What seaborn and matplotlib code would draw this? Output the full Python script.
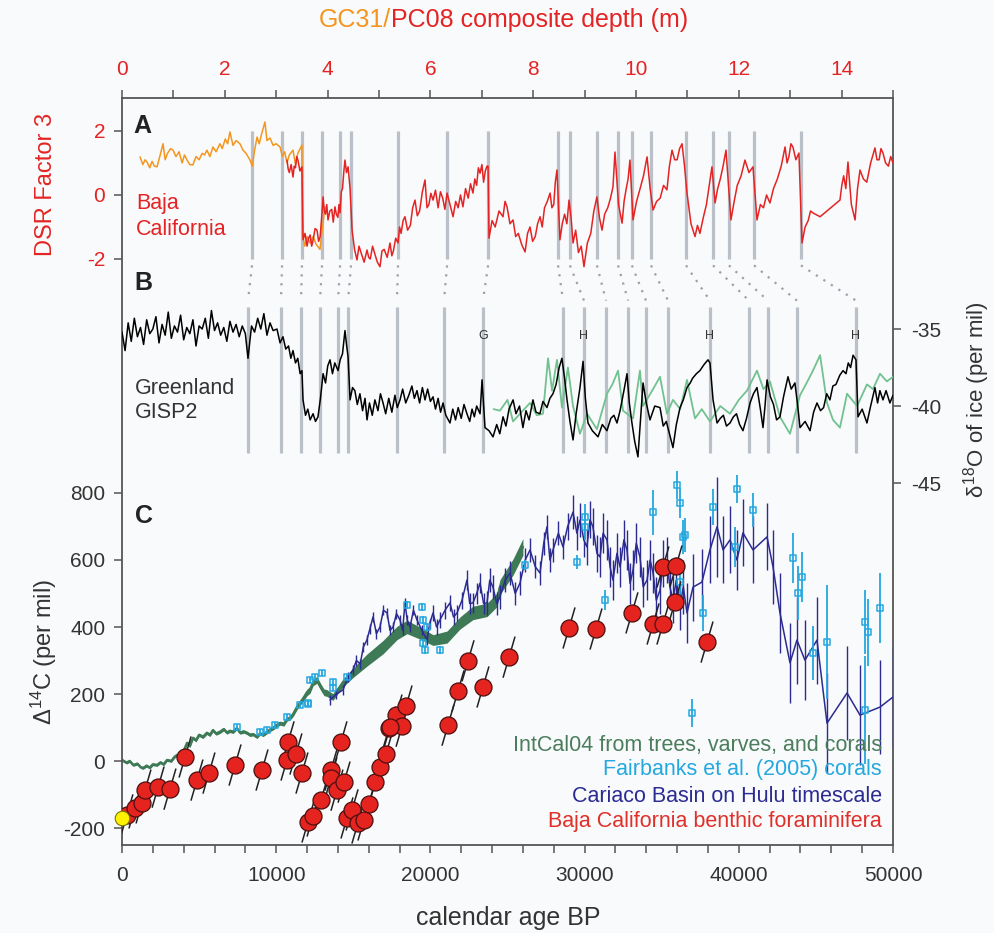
import matplotlib
matplotlib.use("Agg")
import matplotlib.pyplot as plt
from matplotlib.ticker import MultipleLocator
import numpy as np
import seaborn as sns

# ---------------- data ----------------
# Panel A: DSR factor 3 (GC31, orange) vs calendar age
GC31_AGE = [
    1170, 1350, 1500, 1620, 1800, 1950, 2100, 2270, 2450, 2660,
    2800, 2950, 3150, 3310, 3500, 3700, 3900, 4050, 4220, 4400,
    4600, 4800, 5000, 5200, 5350, 5510, 5700, 5900, 6100, 6350,
    6500, 6700, 6850, 7000, 7200, 7400, 7650, 7850, 8050, 8300,
    8450, 8600, 8760, 8900, 9050, 9270, 9400, 9600, 9800, 10000,
    10250, 10400, 10550, 10700, 10850, 11090, 11250, 11400, 11670, 11700,
    11850, 12000, 12200, 12390, 12600, 12840, 13000, 13170]
GC31_VAL = [
    1.19, 0.95, 1.10, 1.03, 0.85, 1.05, 0.90, 0.88, 1.20, 1.60,
    1.10, 1.30, 1.45, 1.40, 1.20, 1.35, 1.00, 1.25, 1.09, 0.95,
    0.94, 1.20, 1.10, 1.30, 1.25, 1.40, 1.20, 1.50, 1.35, 1.60,
    1.45, 1.75, 1.60, 1.97, 1.55, 1.70, 1.60, 1.40, 1.30, 1.09,
    0.90, 1.40, 1.81, 1.60, 1.90, 2.28, 1.70, 1.78, 1.55, 1.60,
    1.50, 1.20, 1.35, 1.00, 1.25, 1.40, 0.95, 1.30, 1.56, -1.20,
    -1.60, -1.30, -1.50, -1.30, -1.55, -1.70, -1.00, -0.37]

# Panel A: DSR factor 3 (PC08, red) as (age, value)
PC08 = [
    (10700, 1.09), (10780, 0.80), (10850, 0.70), (10970, 0.95), (11090, 0.56),
    (11170, 0.90), (11250, 0.85), (11330, 1.20), (11410, 1.09), (11540, 0.75),
    (11670, 0.88), (11740, -1.40), (11870, -1.20), (12000, -1.60), (12100, -1.35),
    (12200, -1.25), (12300, -1.60), (12400, -1.40), (12520, -1.05), (12650, -1.10),
    (12750, -1.45), (12850, -1.30), (12950, -0.70), (13040, -0.06), (13120, -0.50),
    (13200, -0.60), (13280, -0.30), (13360, -0.78), (13480, -0.50), (13600, -0.45),
    (13700, -0.85), (13810, -0.37), (13900, -0.60), (14000, -0.70), (14070, -0.30),
    (14140, -0.56), (14220, 0.10), (14300, 0.20), (14380, 0.70), (14460, 1.09),
    (14560, 0.70), (14660, 0.88), (14790, 0.20), (14920, -1.10), (15080, -1.70),
    (15240, -2.03), (15370, -1.60), (15500, -1.80), (15700, -2.10), (15890, -1.72),
    (16000, -1.95), (16100, -2.00), (16250, -1.60), (16400, -1.85), (16560, -2.10),
    (16730, -2.24), (16860, -1.75), (17000, -1.70), (17200, -1.95), (17380, -1.50),
    (17500, -1.90), (17600, -1.75), (17750, -1.35), (17900, -1.50), (18000, -1.00),
    (18100, -1.20), (18230, -0.80), (18350, -0.68), (18520, -1.10), (18700, -0.95),
    (18850, -0.40), (19000, -0.16), (19150, -0.65), (19300, -0.50), (19480, 0.10),
    (19650, 0.47), (19780, -0.40), (19900, -0.30), (20030, 0.05), (20170, -0.16),
    (20330, 0.15), (20500, -0.40), (20650, 0.10), (20800, -0.10), (20940, -0.45),
    (21080, 0.06), (21270, -0.30), (21470, -0.68), (21640, -0.20), (21800, -0.40),
    (21950, 0.00), (22110, -0.37), (22280, 0.20), (22450, -0.10), (22600, 0.35),
    (22760, 0.06), (22880, 0.50), (23000, 0.30), (23110, 0.85), (23220, 0.68),
    (23340, 0.95), (23450, 0.40), (23560, 0.75), (23670, 0.90), (23740, 0.90),
    (23800, -1.35), (24000, -0.80), (24200, -1.00), (24450, -0.50), (24710, -0.68),
    (24840, -0.20), (24970, -0.37), (25160, -0.90), (25360, -0.78), (25530, -1.30),
    (25700, -1.20), (25920, -1.55), (26140, -1.78), (26300, -1.20), (26460, -1.00),
    (26630, -1.45), (26800, -1.30), (26950, -0.90), (27110, -0.68), (27250, -1.00),
    (27400, -0.40), (27580, -0.20), (27760, 0.06), (27880, -0.40), (28000, -0.30),
    (28100, 0.40), (28210, 0.78), (28400, -1.40), (28550, -0.90), (28700, -0.60),
    (28850, -0.90), (28990, -0.16), (29120, -0.70), (29250, -1.50), (29420, -1.10),
    (29600, -1.80), (29780, -1.60), (29960, -2.24), (30180, -1.50), (30400, -1.20),
    (30600, -0.50), (30800, -0.06), (30960, -0.70), (31130, -1.10), (31300, -0.60),
    (31500, -0.40), (31680, -0.10), (31840, 0.25), (31970, 1.34), (32200, -0.30),
    (32430, -0.88), (32560, -0.20), (32700, 0.20), (32820, 0.50), (32940, 1.09),
    (33140, -0.78), (33370, -0.20), (33600, 0.20), (33820, 0.60), (34050, 1.19),
    (34250, 0.20), (34440, -0.47), (34670, -0.20), (34900, -0.10), (35120, 0.30),
    (35340, 0.16), (35500, 0.90), (35670, 1.40), (35840, 1.10), (36000, 1.10),
    (36160, 1.45), (36320, 1.60), (36480, 0.90), (36640, 0.06), (36900, -0.90),
    (37160, -1.30), (37320, -0.95), (37480, -1.20), (37700, -0.70), (37900, -0.30),
    (38080, 0.30), (38260, 0.88), (38460, -0.25), (38630, 0.20), (38800, 0.50),
    (38980, 0.90), (39170, 1.40), (39490, -0.78), (39700, -0.20), (39900, 0.30),
    (40150, 0.60), (40400, 1.09), (40660, 0.70), (40920, 0.88), (41180, -0.78),
    (41400, -0.30), (41600, -0.40), (41800, 0.00), (42020, -0.25), (42250, 0.20),
    (42500, 0.50), (42750, 0.90), (43000, 1.50), (43130, 1.00), (43250, 1.20),
    (43380, 1.60), (43510, 1.50), (43700, 1.10), (43900, 1.31), (44100, -1.50),
    (44300, -1.00), (44500, -0.80), (44650, -0.50), (44810, -0.56), (45270, -0.68),
    (46560, -0.16), (46680, 0.30), (46800, 0.60), (46940, 0.20), (47080, 1.03),
    (47300, -0.30), (47540, -0.78), (47700, 0.20), (47860, 0.78), (48080, 0.50),
    (48300, 0.40), (48550, 1.00), (48830, 1.47), (48960, 1.10), (49100, 1.10),
    (49220, 1.45), (49350, 1.31), (49520, 1.00), (49700, 0.90), (49850, 1.20),
    (50000, 1.00)]

# Panel B: GISP2 d18O (black) as (age, value)
GISP = [
    (0, -35.2), (200, -36.4), (400, -34.6), (600, -35.8), (800, -34.3),
    (1000, -35.5), (1200, -34.9), (1400, -36.0), (1600, -34.4), (1800, -35.3),
    (2000, -35.0), (2200, -34.2), (2400, -35.9), (2600, -34.7), (2800, -35.4),
    (3000, -33.9), (3200, -35.6), (3400, -34.8), (3600, -35.2), (3800, -34.1),
    (4000, -35.7), (4200, -34.9), (4400, -35.3), (4600, -34.4), (4800, -36.1),
    (5000, -34.8), (5200, -35.0), (5400, -34.3), (5600, -35.6), (5800, -33.8),
    (6000, -35.1), (6200, -34.6), (6400, -35.4), (6600, -34.9), (6800, -35.8),
    (7000, -34.5), (7200, -35.2), (7400, -34.7), (7600, -35.5), (7800, -34.8),
    (8000, -35.3), (8170, -36.9), (8400, -34.8), (8600, -35.2), (8800, -34.3),
    (9000, -35.0), (9200, -34.0), (9400, -35.4), (9600, -34.6), (9800, -35.1),
    (10050, -35.0), (10250, -35.9), (10440, -35.5), (10620, -36.3), (10800, -36.1),
    (10950, -36.9), (11090, -36.4), (11250, -37.2), (11400, -36.9), (11550, -37.9),
    (11670, -37.7), (11740, -39.6), (11900, -40.6), (12050, -40.2), (12200, -40.9),
    (12390, -40.5), (12550, -41.0), (12710, -40.7), (12870, -39.5), (13040, -37.9),
    (13200, -38.5), (13340, -37.4), (13490, -37.0), (13650, -37.9), (13800, -37.2),
    (14010, -37.7), (14150, -37.0), (14300, -36.6), (14460, -35.1), (14560, -36.0),
    (14660, -36.8), (14790, -39.6), (14950, -38.8), (15100, -39.0), (15260, -39.9),
    (15430, -39.2), (15600, -40.3), (15760, -39.5), (15890, -40.9), (16050, -39.8),
    (16230, -40.6), (16400, -39.6), (16600, -40.3), (16760, -39.2), (16930, -39.8),
    (17100, -40.5), (17300, -39.5), (17500, -40.4), (17700, -39.3), (17850, -40.1),
    (18030, -39.6), (18200, -38.9), (18400, -39.8), (18600, -39.3), (18800, -38.7),
    (18960, -39.5), (19130, -39.0), (19300, -39.8), (19480, -38.8), (19650, -39.6),
    (19820, -38.9), (20000, -39.7), (20170, -39.4), (20330, -40.2), (20500, -39.5),
    (20660, -40.4), (20820, -39.8), (21000, -40.6), (21270, -41.1), (21450, -40.2),
    (21630, -40.9), (21800, -40.1), (22000, -40.8), (22180, -39.9), (22370, -40.5),
    (22550, -41.0), (22700, -40.2), (22850, -40.7), (23000, -40.0), (23220, -40.5),
    (23350, -38.3), (23540, -41.4), (23800, -41.6), (24060, -42.0), (24300, -41.2),
    (24500, -41.8), (24710, -40.7), (24900, -41.3), (25100, -40.2), (25360, -39.6),
    (25550, -40.5), (25780, -40.0), (26000, -41.4), (26200, -40.3), (26400, -40.9),
    (26650, -39.6), (26850, -40.4), (27100, -40.5), (27300, -39.7), (27560, -40.1),
    (27750, -39.5), (27950, -39.2), (28150, -38.6), (28350, -37.5), (28530, -36.9),
    (28700, -38.2), (28860, -39.6), (29050, -41.0), (29250, -42.2), (29450, -40.5),
    (29700, -38.8), (29900, -37.1), (30050, -39.5), (30220, -41.1), (30500, -41.6),
    (30870, -42.0), (31150, -41.2), (31450, -41.6), (31700, -40.8), (31900, -40.6),
    (32100, -41.1), (32300, -40.3), (32550, -39.0), (32750, -37.9), (32900, -39.8),
    (33070, -41.1), (33250, -42.3), (33460, -43.3), (33650, -40.5), (33790, -38.5),
    (34000, -39.8), (34240, -40.9), (34550, -40.0), (34890, -40.1), (35100, -41.3),
    (35300, -41.0), (35500, -41.8), (35730, -42.7), (35950, -41.2), (36190, -40.1),
    (36400, -39.6), (36640, -38.8), (36850, -38.5), (37000, -38.2), (37250, -37.9),
    (37480, -37.7), (37750, -37.3), (38000, -37.0), (38130, -37.2), (38330, -39.6),
    (38590, -41.1), (38800, -40.8), (39000, -40.6), (39200, -41.3), (39430, -41.1),
    (39650, -40.7), (39850, -40.5), (40050, -41.2), (40270, -41.6), (40500, -40.8),
    (40730, -39.8), (40950, -39.2), (41180, -38.8), (41400, -40.2), (41570, -41.4),
    (41700, -40.0), (41830, -38.3), (42050, -39.4), (42250, -39.9), (42450, -40.9),
    (42670, -40.7), (42900, -39.4), (43190, -38.1), (43400, -38.9), (43640, -38.5),
    (43800, -39.8), (43970, -41.4), (44300, -41.0), (44620, -41.6), (44850, -40.4),
    (45070, -39.8), (45300, -40.3), (45500, -40.1), (45700, -39.2), (45910, -39.6),
    (46100, -38.7), (46300, -38.6), (46550, -38.0), (46760, -37.7), (46950, -37.9),
    (47100, -37.2), (47250, -37.5), (47410, -36.7), (47600, -37.0), (47730, -40.7),
    (48000, -40.2), (48310, -41.1), (48550, -40.0), (48830, -38.8), (49000, -39.8),
    (49150, -39.0), (49350, -39.6), (49550, -39.0), (49800, -39.8), (50000, -39.3)]

# Panel B: alternative (green) trace
GISP_ALT_AGE = [
    24100, 24510, 25000, 25360, 25900, 26460, 26900, 27300, 27630, 27890,
    28210, 28530, 28920, 29250, 29700, 30160, 30800, 31450, 31800, 32170,
    32490, 33140, 33590, 33790, 34440, 34890, 35340, 35730, 36200, 36640,
    37160, 37600, 38130, 38800, 39430, 40000, 40530, 41180, 41600, 42020,
    42670, 43320, 43970, 44400, 44810, 45270, 45720, 46110, 46560, 47020,
    47670, 48310, 48700, 49160, 49600, 50000]
GISP_ALT_VAL = [
    -40.2, -40.3, -39.6, -41.0, -40.4, -39.8, -40.6, -40.5, -36.9, -39.0,
    -37.0, -40.1, -37.5, -40.0, -41.8, -40.5, -41.5, -39.2, -38.6, -37.7,
    -40.3, -40.8, -37.7, -40.0, -38.9, -38.1, -40.5, -39.6, -40.2, -38.3,
    -40.8, -40.2, -41.0, -40.0, -40.5, -39.6, -39.0, -37.7, -38.9, -38.4,
    -40.7, -41.8, -39.3, -38.5, -37.7, -36.7, -39.8, -40.9, -41.4, -39.2,
    -40.0, -38.6, -38.9, -37.9, -38.4, -38.1]

A_EVENTS = [8430, 10380, 11670, 12970, 14140, 14850, 17900, 21080, 23740, 28280,
            29050, 30800, 32170, 33070, 34310, 36580, 38330, 39360, 40990, 44030]
B_EVENTS = [8170, 10310, 11610, 12840, 14010, 14660, 17830, 20880, 23410, 28600,
            29960, 31390, 32820, 33980, 35410, 38130, 40660, 41890, 43770, 47600]
B_MARK_AGE = [23410, 29960, 38130, 47600]
B_MARK_TXT = ["G", "H", "H", "H"]

# Panel C: IntCal04 as (age, D14C, half-width)
INTCAL = [
    (0, 3, 4), (300, -5, 4), (500, 0, 4), (730, -12, 4), (1000, -8, 4),
    (1200, -18, 4), (1360, -21, 4), (1600, -14, 4), (1800, -20, 4), (2000, -10, 4),
    (2270, -12, 4), (2500, -4, 4), (2700, -10, 4), (2920, 3, 4), (3200, 0, 4),
    (3400, 12, 4), (3570, 18, 4), (3800, 10, 4), (4000, 30, 5), (4220, 54, 5),
    (4400, 45, 5), (4600, 69, 5), (4800, 62, 5), (5000, 78, 5), (5250, 72, 5),
    (5500, 84, 5), (5700, 78, 5), (5900, 92, 5), (6100, 82, 5), (6350, 87, 5),
    (6600, 95, 5), (6800, 85, 5), (7000, 90, 5), (7200, 87, 5), (7450, 98, 5),
    (7650, 85, 5), (7900, 88, 5), (8100, 84, 5), (8300, 78, 5), (8500, 80, 5),
    (8750, 72, 5), (8950, 82, 5), (9150, 78, 5), (9400, 87, 6), (9650, 95, 6),
    (9850, 100, 6), (10050, 108, 6), (10250, 113, 6), (10500, 110, 6), (10700, 125, 6),
    (10900, 128, 6), (11100, 140, 7), (11350, 161, 8), (11540, 173, 8), (11800, 190, 9),
    (12000, 205, 10), (12190, 212, 10), (12400, 235, 10), (12640, 242, 10), (12900, 220, 10),
    (13100, 205, 10), (13290, 203, 10), (13680, 191, 10), (14330, 233, 12), (14980, 263, 14),
    (15880, 301, 18), (16930, 340, 20), (17830, 382, 20), (18480, 400, 20), (19320, 382, 18),
    (20170, 361, 16), (21080, 370, 18), (21920, 412, 18), (22760, 442, 20), (23670, 451, 20),
    (24320, 481, 20), (24510, 519, 22), (25360, 579, 24), (26000, 639, 25)]

FB_AGE = [7450, 8950, 9400, 9920, 10700, 11540, 12060, 12190, 12510, 12970,
          12060, 13680, 13680, 14590, 18480, 19450, 19520, 19650, 19520, 20620,
          19780, 26130, 29500, 30030, 30030, 31320, 34440, 35990, 36190, 36380,
          36510, 36190, 37680, 38330, 39880, 39750, 40920, 36960, 43510, 43840,
          44100, 45720, 44810, 48180, 48380, 49160, 48180]
FB_VAL = [102, 87, 93, 107, 131, 167, 170, 242, 251, 263,
          173, 236, 218, 251, 466, 460, 421, 331, 352, 331,
          400, 585, 594, 728, 699, 481, 743, 824, 770, 669,
          675, 534, 442, 758, 812, 639, 749, 143, 606, 501,
          549, 355, 322, 415, 385, 457, 152]
FB_ERR = [8, 8, 8, 8, 8, 8, 8, 8, 8, 8,
          8, 8, 8, 8, 12, 12, 12, 12, 12, 12,
          12, 15, 20, 40, 40, 30, 67, 42, 45, 50,
          50, 45, 55, 55, 42, 60, 50, 42, 75, 80,
          75, 170, 80, 95, 100, 105, 160]

# Panel C: Cariaco on Hulu timescale as (age, D14C, error)
CARIACO = [
    (13490, 182, 15), (13900, 200, 15), (14330, 212, 15), (14650, 250, 15), (14980, 272, 15),
    (15200, 300, 15), (15450, 290, 15), (15650, 340, 15), (15880, 361, 15), (16080, 395, 15),
    (16280, 430, 15), (16500, 380, 15), (16730, 400, 15), (16950, 450, 15), (17190, 442, 15),
    (17380, 390, 15), (17580, 400, 15), (17800, 440, 15), (18030, 421, 15), (18200, 390, 15),
    (18350, 472, 15), (18500, 420, 15), (18680, 400, 15), (18900, 450, 15), (19130, 421, 15),
    (19450, 390, 15), (19780, 361, 15), (19950, 410, 15), (20170, 442, 25), (20400, 400, 25),
    (20620, 421, 25), (20950, 450, 25), (21270, 472, 25), (21500, 430, 25), (21730, 442, 25),
    (22050, 480, 25), (22370, 540, 30), (22550, 470, 30), (22760, 472, 30), (23000, 500, 30),
    (23220, 531, 30), (23450, 470, 30), (23670, 472, 35), (23850, 540, 35), (24060, 519, 35),
    (24300, 470, 35), (24510, 490, 35), (24850, 540, 35), (25160, 561, 35), (25500, 500, 35),
    (25810, 531, 35), (26150, 600, 35), (26460, 630, 35), (26800, 580, 35), (27110, 561, 35),
    (27350, 650, 35), (27560, 699, 35), (27750, 600, 35), (27950, 630, 35), (28300, 680, 35),
    (28600, 639, 35), (28900, 700, 40), (29250, 743, 50), (29500, 680, 50), (29700, 719, 50),
    (29950, 660, 50), (30150, 639, 55), (30350, 720, 55), (30540, 699, 55), (30800, 620, 55),
    (31000, 609, 60), (31200, 680, 60), (31450, 660, 60), (31650, 580, 60), (31840, 540, 60),
    (32100, 620, 60), (32300, 579, 60), (32550, 660, 60), (32750, 630, 60), (32950, 530, 60),
    (33140, 570, 60), (33350, 650, 60), (33590, 609, 60), (33800, 520, 60), (34050, 540, 60),
    (34250, 600, 60), (34440, 561, 60), (34650, 480, 70), (34890, 510, 70), (35100, 590, 70),
    (35340, 600, 70), (35530, 520, 70), (35730, 481, 70), (35950, 540, 70), (36190, 460, 70),
    (36400, 520, 80), (36640, 442, 90), (37030, 519, 100), (37610, 534, 100), (38130, 630, 100),
    (38590, 699, 150), (38980, 630, 100), (39430, 660, 100), (39880, 600, 90), (40270, 681, 100),
    (40920, 630, 100), (41830, 669, 100), (42220, 579, 110), (42670, 442, 120), (43320, 293, 120),
    (43770, 361, 130), (44290, 301, 120), (45070, 361, 130), (45720, 113, 150), (47020, 203, 140),
    (47860, 137, 150), (49160, 161, 140), (50000, 191, 150)]

BAJA_AGE = [320, 840, 1300, 1490, 2340, 3110, 4090, 4860, 5640, 7330,
            9080, 10770, 10700, 11280, 11670, 12060, 12390, 12910, 13550, 13550,
            13940, 14400, 14200, 14590, 14920, 15300, 15690, 16020, 16410, 16730,
            17120, 17320, 17770, 18160, 18420, 17380, 21140, 21790, 22440, 23410,
            25100, 28990, 30740, 33070, 34440, 35080, 35080, 35930, 35860, 37940]
BAJA_VAL = [-161, -140, -125, -87, -78, -84, 12, -57, -36, -12,
            -27, 57, 3, 21, -36, -182, -164, -116, -27, -51,
            -87, -63, 57, -170, -146, -185, -176, -128, -63, -18,
            21, 99, 137, 104, 164, 101, 107, 209, 299, 221,
            310, 397, 394, 442, 409, 409, 579, 582, 475, 355]
BAJA_DAGE = 380      # half extent of the correlated age error (yr)
BAJA_DVAL = 60       # half extent of the correlated D14C error (per mil)
MODERN_AGE = [0]
MODERN_VAL = [-170]

DEPTH_TICKS = [0, 2, 4, 6, 8, 10, 12, 14]
AGE_TICKS = [0, 10000, 20000, 30000, 40000, 50000]
DSR_TICKS = [-2, 0, 2]
D18O_TICKS = [-45, -40, -35]
D14C_TICKS = [-200, 0, 200, 400, 600, 800]

LEGEND_TXT = ["IntCal04 from trees, varves, and corals",
              "Fairbanks et al. (2005) corals",
              "Cariaco Basin on Hulu timescale",
              "Baja California benthic foraminifera"]

# ---------------- style ----------------
BG = "#f9fafb"
RED = "#e42424"
ORANGE = "#f4961e"
GRAY = "#b9c0c7"
DOT = "#9aa2aa"
GREENL = "#72c190"
INTCALC = "#3e7a55"
FBC = "#24a8e0"
CAR = "#2b2b92"
BAJA = "#e5231f"
TXT = "#333333"
SPINE = "#555555"

sns.set_theme(style="ticks")
plt.rcParams["font.family"] = ["Liberation Sans", "DejaVu Sans"]
plt.rcParams["mathtext.fontset"] = "custom"
plt.rcParams["mathtext.rm"] = "Liberation Sans"
plt.rcParams["mathtext.it"] = "Liberation Sans"
plt.rcParams["mathtext.bf"] = "Liberation Sans:bold"

W, H = 994, 933
fig = plt.figure(figsize=(W / 100, H / 100), dpi=100, facecolor=BG)


def fx(x):
    return x / W


def fy(y):
    return 1 - y / H


rect = [fx(122), fy(845), (893 - 122) / W, (845 - 98) / H]
axC = fig.add_axes(rect, facecolor=BG)
axB = fig.add_axes(rect, facecolor="none")
axA = fig.add_axes(rect, facecolor="none")
axD = fig.add_axes(rect, facecolor="none")

for ax in (axA, axB, axD):
    for s in ax.spines.values():
        s.set_visible(False)
for s in axC.spines.values():
    s.set_color(SPINE)
    s.set_linewidth(1.3)
    s.set_visible(True)

for ax in (axA, axB, axC):
    ax.set_xlim(0, 50000)
axA.set_ylim(-20.31, 3.03)
axB.set_ylim(-68.5, -20.0)
axC.set_ylim(-250.7, 1979)

# ---- panel A ----
for a in A_EVENTS:
    axA.plot([a, a], [-2.0, 2.0], color=GRAY, lw=2.3, solid_capstyle="butt", zorder=1)
for a, b in zip(A_EVENTS, B_EVENTS):
    axA.plot([a, b], [-2.2, -3.3], color=DOT, lw=1.6, ls=(0, (1, 3)), zorder=1)
sns.lineplot(x=GC31_AGE, y=GC31_VAL, ax=axA, color=ORANGE, lw=1.1,
             sort=False, estimator=None, legend=False, zorder=3)
sns.lineplot(x=[p[0] for p in PC08], y=[p[1] for p in PC08], ax=axA, color=RED, lw=1.1,
             sort=False, estimator=None, legend=False, zorder=4)

# ---- panel B ----
for b in B_EVENTS:
    axB.plot([b, b], [-33.57, -43.05], color=GRAY, lw=2.3, solid_capstyle="butt", zorder=1)
sns.lineplot(x=GISP_ALT_AGE, y=GISP_ALT_VAL, ax=axB, color=GREENL, lw=1.3,
             sort=False, estimator=None, legend=False, zorder=2)
sns.lineplot(x=[p[0] for p in GISP], y=[p[1] for p in GISP], ax=axB, color="black", lw=1.1,
             sort=False, estimator=None, legend=False, zorder=3)
for a, t in zip(B_MARK_AGE, B_MARK_TXT):
    axB.text(a, -35.45, t, ha="center", va="center", fontsize=9, color=TXT)

# ---- panel C ----
ia = np.array([p[0] for p in INTCAL])
iv = np.array([p[1] for p in INTCAL])
ie = np.array([p[2] for p in INTCAL])
axC.fill_between(ia, iv - ie, iv + ie, color=INTCALC, lw=0, zorder=2)
sns.lineplot(x=ia, y=iv, ax=axC, color=INTCALC, lw=1.8,
             sort=False, estimator=None, legend=False, zorder=2)

ca = [p[0] for p in CARIACO]
cv = [p[1] for p in CARIACO]
ce = [p[2] for p in CARIACO]
axC.errorbar(ca, cv, yerr=ce, fmt="none", ecolor=CAR, elinewidth=1.0, zorder=3)
sns.lineplot(x=ca, y=cv, ax=axC, color=CAR, lw=1.1,
             sort=False, estimator=None, legend=False, zorder=3)

axC.errorbar(FB_AGE, FB_VAL, yerr=FB_ERR, fmt="none", ecolor=FBC, elinewidth=1.3, zorder=4)
sns.scatterplot(x=FB_AGE, y=FB_VAL, ax=axC, marker="s", s=22, facecolor="none",
                edgecolor=FBC, linewidth=1.1, legend=False, zorder=5)

for a, v in zip(BAJA_AGE, BAJA_VAL):
    axC.plot([a - BAJA_DAGE, a + BAJA_DAGE], [v - BAJA_DVAL, v + BAJA_DVAL],
             color="#222222", lw=1.1, zorder=6)
sns.scatterplot(x=BAJA_AGE, y=BAJA_VAL, ax=axC, s=150, color=BAJA,
                edgecolor="#4a1010", linewidth=0.9, legend=False, zorder=7)
sns.scatterplot(x=MODERN_AGE, y=MODERN_VAL, ax=axC, s=110, color="#fff200",
                edgecolor="#777700", linewidth=0.8, legend=False, zorder=8, clip_on=False)

# ---------------- axes / ticks ----------------
axC.set_xticks(AGE_TICKS)
axC.set_xticklabels([str(t) for t in AGE_TICKS])
axC.xaxis.set_minor_locator(MultipleLocator(2000))
axC.tick_params(axis="x", which="both", direction="out", length=6, width=1.1,
                color=SPINE, labelsize=15, labelcolor=TXT, pad=9, top=False, bottom=True)
axC.set_yticks(D14C_TICKS)
axC.set_yticklabels([str(t) for t in D14C_TICKS])
axC.tick_params(axis="y", which="both", direction="out", length=6, width=1.1,
                color=SPINE, labelsize=15, labelcolor=TXT, pad=6, left=True, right=False)
axC.set_xlabel("")
axC.set_ylabel("")

axA.set_xticks([])
axA.set_yticks(DSR_TICKS)
axA.set_yticklabels([str(t) for t in DSR_TICKS])
axA.tick_params(axis="y", which="both", direction="out", length=6, width=1.1,
                color=SPINE, labelsize=15, labelcolor=RED, pad=6, left=True, right=False)
axA.set_xlabel("")
axA.set_ylabel("")

axB.set_xticks([])
axB.yaxis.tick_right()
axB.set_yticks(D18O_TICKS)
axB.set_yticklabels([str(t) for t in D18O_TICKS])
axB.tick_params(axis="y", which="both", direction="out", length=6, width=1.1,
                color=SPINE, labelsize=15, labelcolor=TXT, pad=7,
                left=False, right=True, labelleft=False, labelright=True)
axB.set_xlabel("")
axB.set_ylabel("")

axD.set_xlim(0, 15)
axD.set_ylim(0, 1)
axD.set_yticks([])
axD.xaxis.tick_top()
axD.set_xticks(DEPTH_TICKS)
axD.set_xticklabels([str(t) for t in DEPTH_TICKS])
axD.xaxis.set_minor_locator(MultipleLocator(1))
axD.tick_params(axis="x", which="both", direction="out", length=6, width=1.1,
                color=SPINE, labelsize=15, labelcolor=RED, pad=8,
                top=True, labeltop=True, bottom=False, labelbottom=False)

# ---------------- text ----------------
fig.text(fx(391), fy(20), "GC31/", color=ORANGE, fontsize=18, ha="right", va="center")
fig.text(fx(391), fy(20), "PC08 composite depth (m)", color=RED, fontsize=18,
         ha="left", va="center")
fig.text(fx(508), fy(918), "calendar age BP", color=TXT, fontsize=18, ha="center", va="center")
fig.text(fx(46), fy(184), "DSR Factor 3", color=RED, fontsize=17, rotation=90,
         ha="center", va="center")
fig.text(fx(44), fy(652), r"$\Delta^{\mathrm{14}}$C (per mil)", color=TXT, fontsize=17,
         rotation=90, ha="center", va="center")
fig.text(fx(977), fy(400), r"$\delta^{\mathrm{18}}$O of ice (per mil)", color=TXT,
         fontsize=16, rotation=90, ha="center", va="center")

fig.text(fx(142), fy(126), "A", fontsize=18, fontweight="bold", color="#222222",
         ha="center", va="center")
fig.text(fx(143), fy(283), "B", fontsize=18, fontweight="bold", color="#222222",
         ha="center", va="center")
fig.text(fx(144), fy(516), "C", fontsize=18, fontweight="bold", color="#222222",
         ha="center", va="center")

fig.text(fx(136), fy(204), "Baja", color=RED, fontsize=15.5, ha="left", va="center")
fig.text(fx(136), fy(229), "California", color=RED, fontsize=15.5, ha="left", va="center")
fig.text(fx(135), fy(388), "Greenland", color=TXT, fontsize=15.5, ha="left", va="center")
fig.text(fx(135), fy(413), "GISP2", color=TXT, fontsize=15.5, ha="left", va="center")

for txt, col, yy in zip(LEGEND_TXT, ["#4b7d5d", FBC, CAR, "#e0302a"], [745, 770, 796, 821]):
    fig.text(fx(882), fy(yy), txt, color=col, fontsize=15.5, ha="right", va="center")

fig.savefig("out.png", dpi=100, facecolor=BG)
